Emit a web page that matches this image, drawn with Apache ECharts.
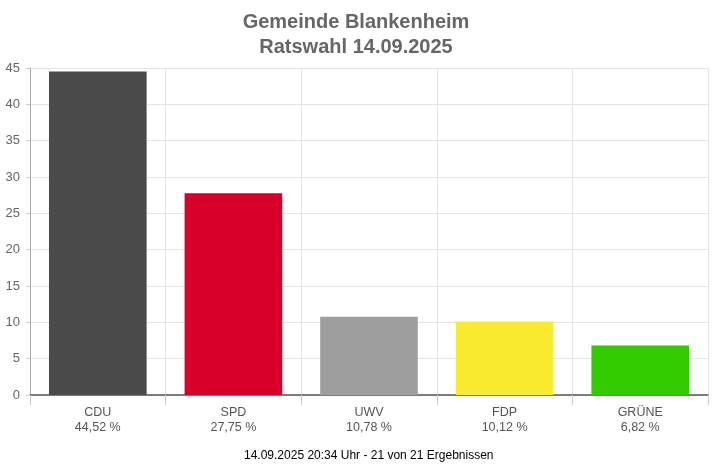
<!DOCTYPE html>
<html><head><meta charset="utf-8">
<script src="https://cdn.jsdelivr.net/npm/echarts@6/dist/echarts.min.js"></script>
<style>html,body{margin:0;padding:0;background:#fff}#c{width:712px;height:468px}</style>
</head><body><div id="c"></div>
<script>
const categories = ['CDU', 'SPD', 'UWV', 'FDP', 'GRÜNE'];
const values = [44.52, 27.75, 10.78, 10.12, 6.82];
const colors = ['#4a4a4a', '#d8002b', '#9e9e9e', '#f9eb2f', '#33cc00'];
const titleLines = ['Gemeinde Blankenheim', 'Ratswahl 14.09.2025'];
const footer = '14.09.2025 20:34 Uhr - 21 von 21 Ergebnissen';
const yTicks = {min: 0, max: 45, interval: 5};

const fmt = v => v.toFixed(2).replace('.', ',') + ' %';
const chart = echarts.init(document.getElementById('c'), null, {renderer: 'canvas'});
chart.setOption({
  animation: false,
  textStyle: {fontFamily: 'Liberation Sans, Arial, sans-serif'},
  title: {
    text: titleLines.join('\n'), left: 'center', top: 5,
    textStyle: {fontSize: 20, fontWeight: 'bold', color: '#666', lineHeight: 25, fontFamily: 'Liberation Sans, Arial, sans-serif'}
  },
  grid: {left: 30, right: 4, top: 68, bottom: 73, containLabel: false},
  xAxis: {
    type: 'category', data: categories,
    axisLine: {show: true, lineStyle: {color: '#555', width: 1.5}},
    axisTick: {show: true, length: 10, lineStyle: {color: '#ccc'}},
    splitLine: {show: true, lineStyle: {color: '#e4e4e4'}},
    axisLabel: {
      margin: 10, color: '#555', fontSize: 12.5, lineHeight: 15,
      formatter: (name, i) => name + '\n' + fmt(values[i])
    }
  },
  yAxis: {
    type: 'value', min: yTicks.min, max: yTicks.max, interval: yTicks.interval,
    axisLine: {show: true, lineStyle: {color: '#aaa'}},
    axisTick: {show: true, length: 4, lineStyle: {color: '#ccc'}},
    splitLine: {lineStyle: {color: '#e4e4e4'}},
    axisLabel: {color: '#666', fontSize: 13, margin: 10}
  },
  series: [{
    type: 'bar', barCategoryGap: '28%',
    data: values.map((v, i) => ({value: v, itemStyle: {color: colors[i]}}))
  }],
  graphic: [{
    type: 'text', left: 244, top: 450,
    style: {text: footer, fill: '#000', fontSize: 12, fontFamily: 'Liberation Sans, Arial, sans-serif'}
  }]
});
</script></body></html>
